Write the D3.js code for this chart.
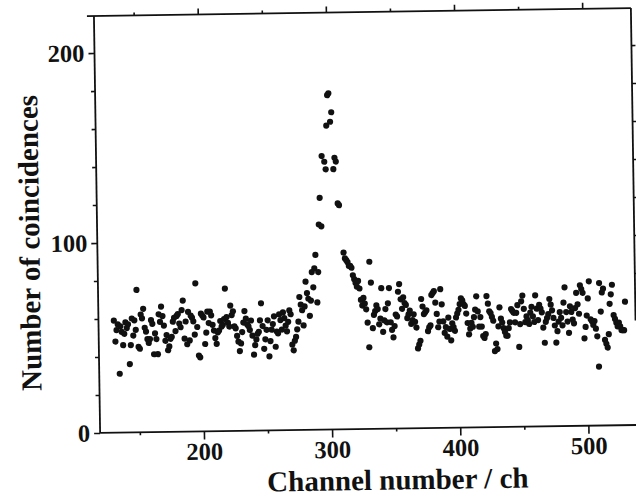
<!DOCTYPE html>
<html>
<head>
<meta charset="utf-8">
<script src="https://cdn.jsdelivr.net/npm/d3@7"></script>
<style>
  body { margin: 0; background: #fff; }
  text { font-family: "Liberation Serif", "Times New Roman", serif; font-weight: bold; fill: #111; }
</style>
</head>
<body>
<div id="draw"></div>
<script>
// data: number of coincidences per channel, starting at channel 131
// (null where no point is visible)
const firstChannel = 131;
const counts = [
    59,48,54,57,31,56,53,46,52,58,  55,57,36,46,60,51,59,54,75,45,
    44,62,60,65,55,53,49,47,49,59,  57,41,52,49,41,62,58,66,61,56,
    48,51,43,45,49,50,58,60,53,61,  62,57,55,64,69,49,58,46,63,48,
    61,60,58,51,78,55,40,39,62,61,  60,46,52,63,57,63,61,56,53,49,
    46,52,53,58,55,56,59,75,60,57,  55,66,61,63,55,54,50,47,42,46,
    52,57,63,59,56,55,53,58,50,40,  45,48,51,52,58,67,55,43,48,53,
    58,39,47,53,56,60,44,52,51,61,  58,53,62,59,55,52,57,63,61,45,
    42,47,49,53,57,70,66,63,55,65,  78,72,69,60,68,83,75,85,92,67,
    83,108,122,107,144,null,141,137,160,176,  177,162,167,137,143,141,119,118,null,null,
    93,90,89,88,86,86,85,81,79,77,  75,78,74,68,65,69,66,63,56,43,
    88,77,53,60,62,65,63,55,58,74,  51,57,63,56,66,74,56,52,48,54,
    60,59,72,76,68,63,69,66,65,58,  60,62,55,57,60,56,53,42,44,46,
    68,64,60,61,62,51,53,54,70,71,  72,66,60,53,56,73,65,56,50,53,
    48,58,52,46,55,53,51,58,60,62,  65,68,67,65,64,60,55,49,52,55,
    53,58,62,69,61,53,58,53,48,47,  49,69,65,61,60,58,56,40,44,41,
    53,63,57,55,52,50,48,48,52,55,  62,61,60,55,60,64,42,54,66,69,
    62,55,58,56,54,60,63,58,55,69,  62,56,64,62,60,52,44,55,57,59,
    67,64,61,57,53,44,50,55,60,57,  53,65,73,60,55,49,63,60,56,54,
    62,70,64,59,74,72,70,46,52,58,  67,76,56,55,53,55,51,47,31,75,
    60,70,72,45,43,41,48,64,69,74,  58,56,54,52,54,52,50,50,50,65
];

const xMajor = [200, 300, 400, 500],
    xMinor = [150, 250, 350, 450],
    yMajor = [0, 100, 200],
    yMinor = [20, 40, 60, 80, 120, 140, 160, 180];

const data = counts.map((n, i) => ({ ch: firstChannel + i, n: n })).filter(d => d.n != null);

// parameters
let width = 636, height = 498;
let plot = { left: 97, right: 634, top: 12, bottom: 429 };
let tilt = -0.85; // the scan is slightly rotated

let x = d3.scaleLinear().domain([119, 538]).range([plot.left, plot.right]);
let y = d3.scaleLinear().domain([0, 219.5]).range([plot.bottom, plot.top]);

let svg = d3.select('#draw').append('svg').attr('width', width).attr('height', height);
let g = svg.append('g')
    .attr('transform', 'rotate(' + tilt + ',' + ((plot.left + plot.right) / 2) + ',' + ((plot.top + plot.bottom) / 2) + ')');

// frame
let frame = g.append('g').attr('stroke', '#111').attr('stroke-width', 1.8).attr('fill', 'none');
frame.append('line').attr('x1', x(119)).attr('x2', x(119)).attr('y1', y(219.5)).attr('y2', y(0));
frame.append('line').attr('x1', x(119)).attr('x2', width + 5).attr('y1', y(0)).attr('y2', y(0));
frame.append('line').attr('x1', x(119) - 7).attr('x2', x(538)).attr('y1', y(219.5)).attr('y2', y(219.5));
frame.append('line').attr('x1', x(538)).attr('x2', x(538)).attr('y1', y(219.5)).attr('y2', y(55));

function styleAxis(sel) {
    sel.select('.domain').remove();
    sel.selectAll('.tick line').attr('stroke', '#111').attr('stroke-width', 1.6);
}

// bottom axis
g.append('g').attr('transform', 'translate(0,' + y(0) + ')')
    .call(d3.axisBottom(x).tickValues(xMajor).tickSize(8).tickPadding(3).tickFormat(d3.format('d')))
    .call(styleAxis)
    .selectAll('text').style('font-size', '24.5px').attr('fill', '#111');
g.append('g').attr('transform', 'translate(0,' + y(0) + ')')
    .call(d3.axisBottom(x).tickValues(xMinor).tickSize(3).tickFormat(''))
    .call(styleAxis);

// top axis
g.append('g').attr('transform', 'translate(0,' + y(219.5) + ')')
    .call(d3.axisTop(x).tickValues(xMajor).tickSize(6).tickFormat(''))
    .call(styleAxis);
g.append('g').attr('transform', 'translate(0,' + y(219.5) + ')')
    .call(d3.axisTop(x).tickValues(xMinor).tickSize(3).tickFormat(''))
    .call(styleAxis);

// left axis
g.append('g').attr('transform', 'translate(' + x(119) + ',0)')
    .call(d3.axisLeft(y).tickValues(yMajor).tickSize(6).tickPadding(4).tickFormat(d3.format('d')))
    .call(styleAxis)
    .selectAll('text').style('font-size', '24.5px').attr('fill', '#111');
g.append('g').attr('transform', 'translate(' + x(119) + ',0)')
    .call(d3.axisLeft(y).tickValues(yMinor).tickSize(4).tickFormat(''))
    .call(styleAxis);

// right axis (cut by the scan)
g.append('g').attr('transform', 'translate(' + x(538) + ',0)')
    .call(d3.axisRight(y).tickValues(yMajor.concat(yMinor).filter(v => v > 55)).tickSize(4).tickFormat(''))
    .call(styleAxis);

// points
g.append('g')
    .selectAll('circle')
    .data(data)
    .enter()
    .append('circle')
    .attr('cx', d => x(d.ch))
    .attr('cy', d => y(d.n))
    .attr('r', 3.1)
    .style('fill', '#111');

// titles
g.append('text')
    .attr('x', 394)
    .attr('y', 490)
    .attr('text-anchor', 'middle')
    .style('font-size', '29px')
    .text('Channel number / ch');

g.append('text')
    .attr('transform', 'translate(39,238) rotate(-90)')
    .attr('text-anchor', 'middle')
    .style('font-size', '29px')
    .text('Number of coincidences');
</script>
</body>
</html>
